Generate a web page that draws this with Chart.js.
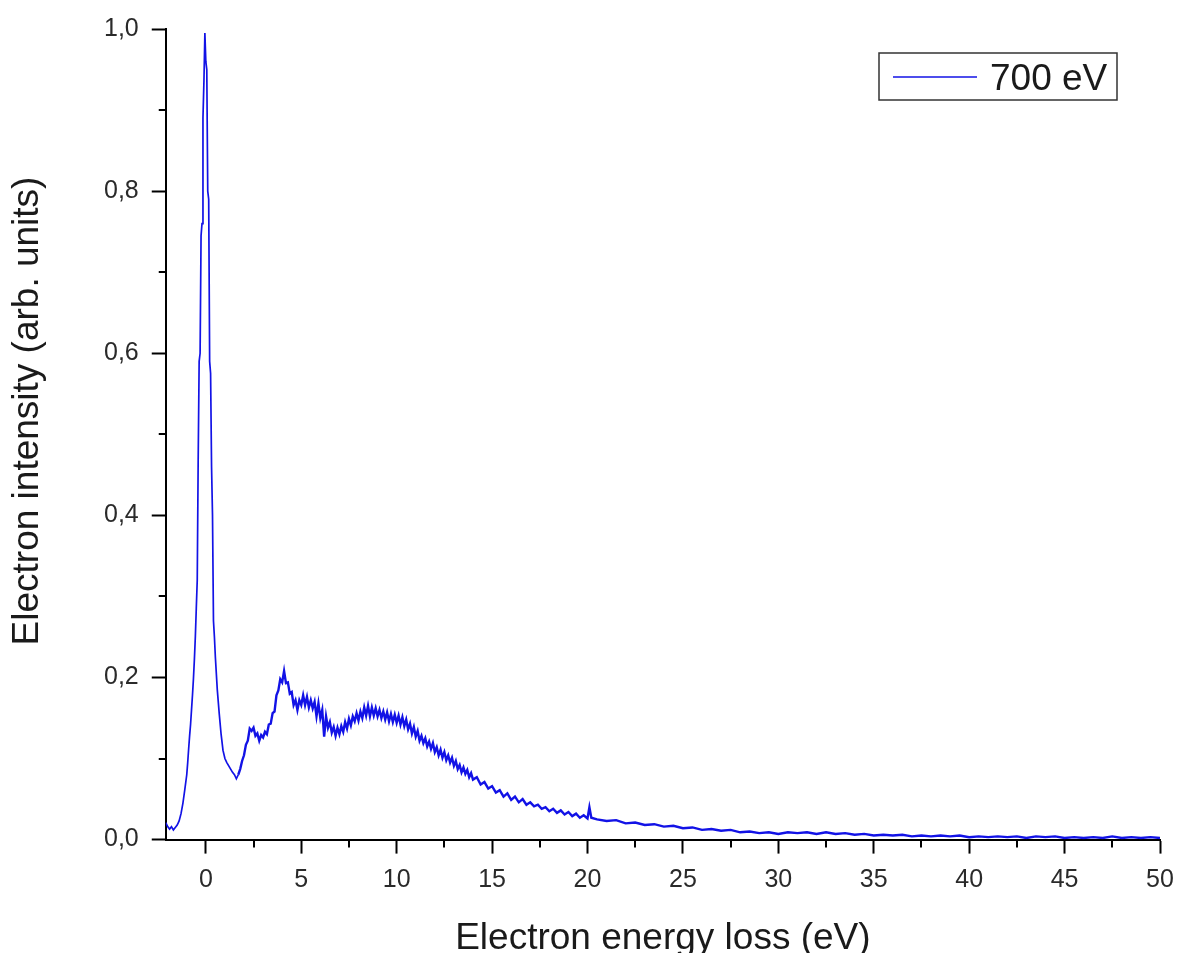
<!DOCTYPE html>
<html lang="en">
<head>
    <meta charset="UTF-8">
    <title>Electron energy loss spectrum</title>
    <script src="https://cdn.jsdelivr.net/npm/chart.js"></script>
    <style>
        body {
            margin: 0;
            padding: 0;
            background-color: #fff;
            overflow: hidden;
        }

        #eelsChart {
            display: block;
        }
    </style>
</head>
<body>
<canvas id="eelsChart" width="1180" height="953"></canvas>

<script>
    // Spectrum: energy loss (eV) and normalised intensity
    const energy = [
        -2.1, -2.0, -1.9, -1.8, -1.7, -1.6, -1.5, -1.4, -1.3, -1.2,
        -1.1, -1.0, -0.95, -0.9, -0.85, -0.8, -0.75, -0.7, -0.65, -0.6,
        -0.55, -0.5, -0.45, -0.4, -0.35, -0.3, -0.25, -0.2, -0.15, -0.1,
        -0.05, 0.0, 0.05, 0.1, 0.15, 0.2, 0.25, 0.3, 0.35, 0.4,
        0.45, 0.5, 0.6, 0.7, 0.8, 0.9, 1.0, 1.1, 1.2, 1.3,
        1.4, 1.5, 1.6, 1.7, 1.8, 1.9, 2.0, 2.1, 2.2, 2.3,
        2.4, 2.5, 2.6, 2.7, 2.8, 2.9, 3.0, 3.1, 3.2, 3.3,
        3.4, 3.5, 3.6, 3.7, 3.8, 3.9, 4.0, 4.1, 4.2, 4.3,
        4.4, 4.5, 4.6, 4.7, 4.8, 4.9, 5.0, 5.1, 5.2, 5.3,
        5.4, 5.5, 5.6, 5.7, 5.8, 5.9, 6.0, 6.1, 6.2, 6.3,
        6.4, 6.5, 6.6, 6.7, 6.8, 6.9, 7.0, 7.1, 7.2, 7.3,
        7.4, 7.5, 7.6, 7.7, 7.8, 7.9, 8.0, 8.1, 8.2, 8.3,
        8.4, 8.5, 8.6, 8.7, 8.8, 8.9, 9.0, 9.1, 9.2, 9.3,
        9.4, 9.5, 9.6, 9.7, 9.8, 9.9, 10.0, 10.1, 10.2, 10.3,
        10.4, 10.5, 10.6, 10.7, 10.8, 10.9, 11.0, 11.1, 11.2, 11.3,
        11.4, 11.5, 11.6, 11.7, 11.8, 11.9, 12.0, 12.1, 12.2, 12.3,
        12.4, 12.5, 12.6, 12.7, 12.8, 12.9, 13.0, 13.1, 13.2, 13.3,
        13.4, 13.5, 13.6, 13.7, 13.8, 13.9, 14.0, 14.2, 14.4, 14.6,
        14.8, 15.0, 15.2, 15.4, 15.6, 15.8, 16.0, 16.2, 16.4, 16.6,
        16.8, 17.0, 17.2, 17.4, 17.6, 17.8, 18.0, 18.2, 18.4, 18.6,
        18.8, 19.0, 19.2, 19.4, 19.6, 19.8, 20.0, 20.1, 20.2, 20.5,
        21.0, 21.5, 22.0, 22.5, 23.0, 23.5, 24.0, 24.5, 25.0, 25.5,
        26.0, 26.5, 27.0, 27.5, 28.0, 28.5, 29.0, 29.5, 30.0, 30.5,
        31.0, 31.5, 32.0, 32.5, 33.0, 33.5, 34.0, 34.5, 35.0, 35.5,
        36.0, 36.5, 37.0, 37.5, 38.0, 38.5, 39.0, 39.5, 40.0, 40.5,
        41.0, 41.5, 42.0, 42.5, 43.0, 43.5, 44.0, 44.5, 45.0, 45.5,
        46.0, 46.5, 47.0, 47.5, 48.0, 48.5, 49.0, 49.5, 50.0
    ];

    const intensity700 = [
        0.021, 0.016, 0.013, 0.016, 0.012, 0.015, 0.018, 0.023, 0.032, 0.045,
        0.062, 0.080, 0.095, 0.112, 0.128, 0.142, 0.160, 0.178, 0.198, 0.222,
        0.250, 0.285, 0.320, 0.470, 0.590, 0.600, 0.745, 0.760, 0.890, 0.935,
        0.995, 0.960, 0.950, 0.800, 0.790, 0.590, 0.575, 0.460, 0.400, 0.270,
        0.250, 0.225, 0.185, 0.156, 0.130, 0.110, 0.100, 0.095, 0.091, 0.087,
        0.083, 0.080, 0.075, 0.080, 0.087, 0.097, 0.104, 0.117, 0.122, 0.137,
        0.134, 0.138, 0.128, 0.131, 0.122, 0.129, 0.126, 0.133, 0.130, 0.142,
        0.143, 0.156, 0.158, 0.178, 0.184, 0.198, 0.194, 0.208, 0.193, 0.194,
        0.180, 0.182, 0.166, 0.172, 0.160, 0.172, 0.166, 0.178, 0.166, 0.176,
        0.163, 0.172, 0.162, 0.170, 0.152, 0.168, 0.150, 0.160, 0.127, 0.152,
        0.138, 0.145, 0.132, 0.139, 0.128, 0.138, 0.130, 0.140, 0.133, 0.145,
        0.137, 0.149, 0.141, 0.152, 0.146, 0.156, 0.147, 0.158, 0.150, 0.163,
        0.153, 0.165, 0.152, 0.163, 0.153, 0.162, 0.152, 0.160, 0.150, 0.158,
        0.148, 0.157, 0.146, 0.155, 0.145, 0.154, 0.144, 0.153, 0.142, 0.151,
        0.140, 0.148, 0.136, 0.143, 0.131, 0.139, 0.127, 0.134, 0.122, 0.128,
        0.119, 0.125, 0.115, 0.121, 0.112, 0.119, 0.108, 0.114, 0.104, 0.111,
        0.101, 0.108, 0.098, 0.104, 0.095, 0.101, 0.091, 0.097, 0.087, 0.092,
        0.083, 0.089, 0.081, 0.086, 0.077, 0.082, 0.074, 0.077, 0.068, 0.071,
        0.063, 0.066, 0.058, 0.061, 0.053, 0.057, 0.049, 0.053, 0.046, 0.050,
        0.043, 0.046, 0.041, 0.043, 0.038, 0.040, 0.035, 0.038, 0.033, 0.036,
        0.031, 0.034, 0.029, 0.032, 0.027, 0.030, 0.026, 0.040, 0.027, 0.025,
        0.023, 0.024, 0.020, 0.021, 0.018, 0.019, 0.016, 0.017, 0.014, 0.015,
        0.012, 0.013, 0.011, 0.012, 0.009, 0.010, 0.008, 0.009, 0.007, 0.009,
        0.008, 0.009, 0.007, 0.009, 0.007, 0.008, 0.006, 0.007, 0.005, 0.006,
        0.005, 0.006, 0.004, 0.005, 0.004, 0.005, 0.004, 0.005, 0.003, 0.004,
        0.003, 0.004, 0.003, 0.004, 0.002, 0.004, 0.003, 0.004, 0.002, 0.003,
        0.002, 0.003, 0.002, 0.004, 0.002, 0.003, 0.002, 0.003, 0.002
    ];

    // Axis ticks
    const xMajorTicks = [0, 5, 10, 15, 20, 25, 30, 35, 40, 45, 50];
    const xMinorTicks = [2.5, 7.5, 12.5, 17.5, 22.5, 27.5, 32.5, 37.5, 42.5, 47.5];
    const yMajorTicks = [0, 0.2, 0.4, 0.6, 0.8, 1.0];
    const yMinorTicks = [0.1, 0.3, 0.5, 0.7, 0.9];

    const FONT = "'Liberation Sans', Arial, sans-serif";
    const LINE_BLUE = 'rgb(18, 18, 230)';
    const Y_TITLE = 'Electron intensity (arb. units)';

    // Small outward ticks between the labelled ones
    const minorTicks = {
        id: 'minorTicks',
        afterDraw(chart) {
            const {ctx, scales: {x, y}} = chart;
            ctx.save();
            ctx.strokeStyle = '#000';
            ctx.lineWidth = 2;
            ctx.beginPath();
            xMinorTicks.forEach(v => {
                const px = Math.round(x.getPixelForValue(v));
                ctx.moveTo(px, y.bottom);
                ctx.lineTo(px, y.bottom + 8);
            });
            yMinorTicks.forEach(v => {
                const py = Math.round(y.getPixelForValue(v));
                ctx.moveTo(x.left - 7, py);
                ctx.lineTo(x.left, py);
            });
            ctx.stroke();
            ctx.restore();
        }
    };

    // Y title sits a little above the axis centre in the original
    const yTitle = {
        id: 'yTitle',
        afterDraw(chart) {
            const {ctx} = chart;
            ctx.save();
            ctx.translate(28, 411);
            ctx.rotate(-Math.PI / 2);
            ctx.fillStyle = '#1a1a1a';
            ctx.font = '37px ' + FONT;
            ctx.textAlign = 'center';
            ctx.textBaseline = 'middle';
            ctx.fillText(Y_TITLE, 0, 0);
            ctx.restore();
        }
    };

    // Framed legend in the upper right corner of the plot
    const framedLegend = {
        id: 'framedLegend',
        afterDraw(chart) {
            const {ctx, chartArea} = chart;
            const ds = chart.data.datasets[0];
            const bx = chartArea.right - 281;
            const by = chartArea.top + 24;
            ctx.save();
            ctx.strokeStyle = '#333';
            ctx.lineWidth = 1.5;
            ctx.strokeRect(bx, by, 238, 47);
            ctx.strokeStyle = ds.borderColor;
            ctx.lineWidth = 1.5;
            ctx.beginPath();
            ctx.moveTo(bx + 14, by + 24);
            ctx.lineTo(bx + 98, by + 24);
            ctx.stroke();
            ctx.fillStyle = '#1a1a1a';
            ctx.font = '37px ' + FONT;
            ctx.textBaseline = 'alphabetic';
            ctx.fillText(ds.label, bx + 111, by + 37);
            ctx.restore();
        }
    };

    const ctx = document.getElementById('eelsChart').getContext('2d');
    const eelsChart = new Chart(ctx, {
        type: 'scatter',
        data: {
            datasets: [{
                label: '700 eV',
                data: energy.map((e, i) => ({x: e, y: intensity700[i]})),
                showLine: true,
                borderColor: LINE_BLUE,
                backgroundColor: LINE_BLUE,
                borderWidth: 1.7,
                pointRadius: 0,
                tension: 0,
                segment: {
                    // noisy part of the spectrum reads as a thicker band
                    borderWidth: c => c.p0.parsed.x >= 1.7 ? 2.4 : 1.7
                }
            }]
        },
        options: {
            responsive: false,
            animation: false,
            layout: {
                padding: {top: 29, right: 20, bottom: 0, left: 91}
            },
            plugins: {
                legend: {display: false},
                tooltip: {enabled: false}
            },
            scales: {
                x: {
                    type: 'linear',
                    min: -2.1,
                    max: 50,
                    afterBuildTicks: scale => {
                        scale.ticks = xMajorTicks.map(v => ({value: v}));
                    },
                    afterFit: scale => {
                        // let the last label hang into the right margin
                        scale.paddingRight = 14;
                    },
                    ticks: {
                        autoSkip: false,
                        maxRotation: 0,
                        padding: 12,
                        color: '#2a2a2a',
                        font: {family: FONT, size: 25},
                        callback: v => String(v)
                    },
                    grid: {
                        drawOnChartArea: false,
                        drawTicks: true,
                        tickLength: 14,
                        tickWidth: 2,
                        tickColor: '#000'
                    },
                    border: {display: true, color: '#000', width: 2},
                    title: {
                        display: true,
                        text: 'Electron energy loss (eV)',
                        color: '#1a1a1a',
                        font: {family: FONT, size: 37},
                        padding: {top: 9, bottom: -8}
                    }
                },
                y: {
                    type: 'linear',
                    min: 0,
                    max: 1.0,
                    afterBuildTicks: scale => {
                        scale.ticks = yMajorTicks.map(v => ({value: v}));
                    },
                    ticks: {
                        padding: 13,
                        color: '#2a2a2a',
                        font: {family: FONT, size: 25},
                        callback: v => v.toFixed(1).replace('.', ',')
                    },
                    grid: {
                        drawOnChartArea: false,
                        drawTicks: true,
                        tickLength: 14,
                        tickWidth: 2,
                        tickColor: '#000'
                    },
                    border: {display: true, color: '#000', width: 2}
                }
            }
        },
        plugins: [minorTicks, yTitle, framedLegend]
    });
</script>
</body>
</html>
